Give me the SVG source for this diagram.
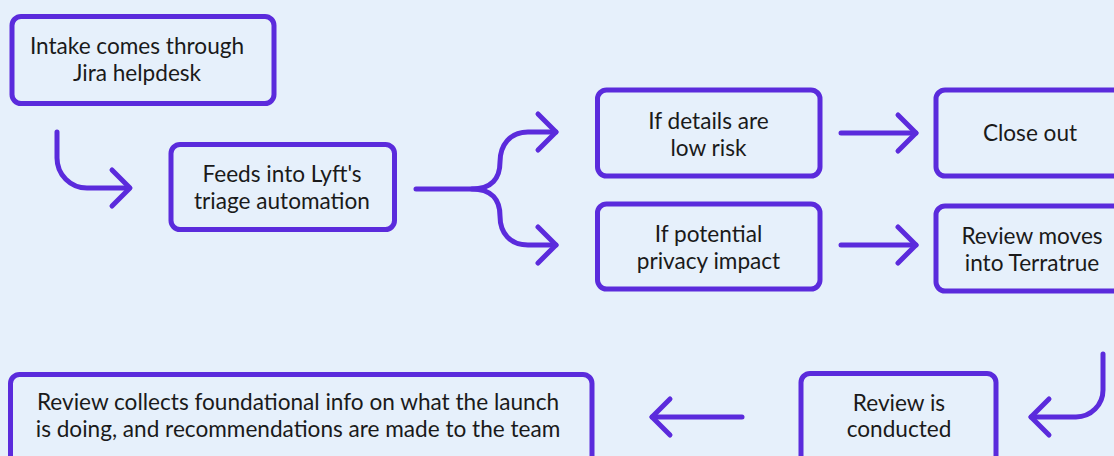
<svg xmlns="http://www.w3.org/2000/svg" width="1114" height="456" viewBox="0 0 1114 456">
  <style>
    .box { fill: none; stroke: #5b2bdc; stroke-width: 5; }
    .lbl { font-family: Lato, "Open Sans", "Liberation Sans", sans-serif; font-size: 22.6px; fill: #1a1a1a; text-anchor: middle; }
    .flow { fill: none; stroke: #5b2bdc; stroke-width: 5; stroke-linecap: round; stroke-linejoin: round; }
  </style>
  <rect width="1114" height="456" fill="#e6f0fb"/>

  <g id="connectors">
    <!-- intake -> triage -->
    <path class="flow" d="M57,132 V158 A30,30 0 0 0 87,188 H129"/>
    <path class="flow" d="M112,170 L130,188 L112,206"/>
    <!-- triage fork -->
    <path class="flow" d="M416,189 H472 C492,189 500,178 500,162 C500,145 510,132 528,132 H556"/>
    <path class="flow" d="M472,189 C492,189 500,200 500,216 C500,233 510,245 528,245 H556"/>
    <path class="flow" d="M538,114 L556,132 L538,150"/>
    <path class="flow" d="M538,227 L556,245 L538,263"/>
    <!-- low risk -> close out -->
    <path class="flow" d="M841,133 H916"/>
    <path class="flow" d="M898,115 L916,133 L898,151"/>
    <!-- privacy impact -> terratrue -->
    <path class="flow" d="M841,245 H916"/>
    <path class="flow" d="M898,227 L916,245 L898,263"/>
    <!-- terratrue -> review conducted -->
    <path class="flow" d="M1103,354 V390 A27,27 0 0 1 1076,417 H1031"/>
    <path class="flow" d="M1049,399 L1031,417 L1049,435"/>
    <!-- review conducted -> recommendations -->
    <path class="flow" d="M742,417 H652"/>
    <path class="flow" d="M670,399 L652,417 L670,435"/>
  </g>

  <g id="intake">
    <rect class="box" x="12" y="16.5" width="262" height="87" rx="9"/>
    <text class="lbl" x="137" y="54">Intake comes through</text>
    <text class="lbl" x="137" y="81">Jira helpdesk</text>
  </g>

  <g id="triage">
    <rect class="box" x="171" y="144.5" width="223.5" height="85" rx="9"/>
    <text class="lbl" x="282" y="182">Feeds into Lyft's</text>
    <text class="lbl" x="282" y="209">triage automation</text>
  </g>

  <g id="low-risk">
    <rect class="box" x="597.5" y="90" width="222.5" height="86" rx="9"/>
    <text class="lbl" x="708.5" y="129">If details are</text>
    <text class="lbl" x="708.5" y="156">low risk</text>
  </g>

  <g id="privacy-impact">
    <rect class="box" x="597.5" y="204" width="222.5" height="85" rx="9"/>
    <text class="lbl" x="708.5" y="242">If potential</text>
    <text class="lbl" x="708.5" y="269">privacy impact</text>
  </g>

  <g id="close-out">
    <rect class="box" x="936" y="90" width="190" height="86" rx="9"/>
    <text class="lbl" x="1030" y="141">Close out</text>
  </g>

  <g id="terratrue">
    <rect class="box" x="936" y="206" width="190" height="85" rx="9"/>
    <text class="lbl" x="1032" y="244">Review moves</text>
    <text class="lbl" x="1032" y="271">into Terratrue</text>
  </g>

  <g id="review-conducted">
    <rect class="box" x="801" y="373.5" width="195" height="100" rx="9"/>
    <text class="lbl" x="899" y="411">Review is</text>
    <text class="lbl" x="899" y="437">conducted</text>
  </g>

  <g id="recommendations">
    <rect class="box" x="10.5" y="374.5" width="581.5" height="100" rx="9"/>
    <text class="lbl" x="298" y="410">Review collects foundational info on what the launch</text>
    <text class="lbl" x="298" y="437">is doing, and recommendations are made to the team</text>
  </g>
</svg>
